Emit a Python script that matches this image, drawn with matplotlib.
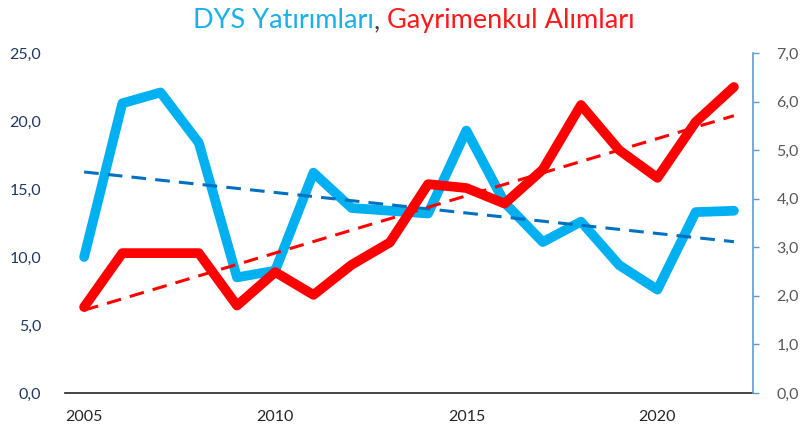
import matplotlib
matplotlib.use("Agg")
import matplotlib.pyplot as plt
import numpy as np
from matplotlib.ticker import FuncFormatter

years = list(range(2005, 2023))
dys = [10.0, 21.3, 22.1, 18.4, 8.5, 9.0, 16.2, 13.6, 13.4, 13.2, 19.3, 14.0,
       11.1, 12.6, 9.4, 7.6, 13.3, 13.4]
gayrimenkul = [1.77, 2.88, 2.88, 2.88, 1.8, 2.49, 2.02, 2.64, 3.1, 4.3, 4.22,
               3.9, 4.6, 5.93, 5.0, 4.43, 5.58, 6.3]
left_ticks = [0, 5, 10, 15, 20, 25]
right_ticks = [0, 1, 2, 3, 4, 5, 6, 7]
x_ticks = [2005, 2010, 2015, 2020]
title_parts = [("DYS Yatırımları", "#1AB0EA"), (", ", "#404040"),
               ("Gayrimenkul Alımları", "#FF1A1A")]

plt.rcParams['font.family'] = ['Lato', 'DejaVu Sans']

W, H = 800, 436
fig = plt.figure(figsize=(W / 100, H / 100), dpi=100)
ax = fig.add_axes([65 / W, 1 - 393 / H, (753 - 65) / W, (393 - 53) / H])
ax2 = ax.twinx()

blue = "#00B0F0"
red = "#FF0000"

ax.plot(years, dys, color=blue, lw=7, solid_joinstyle='round',
        solid_capstyle='round', zorder=3)
pb = np.polyfit(years, dys, 1)
ax.plot([years[0], years[-1]], np.polyval(pb, [years[0], years[-1]]),
        color="#0070C0", lw=2.2, dashes=(4.8, 3), zorder=4)

ax2.plot(years, gayrimenkul, color=red, lw=7, solid_joinstyle='round',
         solid_capstyle='round', zorder=3)
pr = np.polyfit(years, gayrimenkul, 1)
ax2.plot([years[0], years[-1]], np.polyval(pr, [years[0], years[-1]]),
         color=red, lw=2.2, dashes=(4.8, 3), zorder=4)

fmt = FuncFormatter(lambda v, p: f"{v:.1f}".replace('.', ','))

ax.set_xlim(2004.5, 2022.5)
ax.set_ylim(0, 25)
ax.set_yticks(left_ticks)
ax.yaxis.set_major_formatter(fmt)
ax.set_xticks(x_ticks)
ax.set_xticklabels([str(x) for x in x_ticks])
ax.tick_params(axis='y', length=0, pad=17, labelsize=11.5, labelcolor="#1F3864")
ax.tick_params(axis='x', length=0, pad=12, labelsize=11.5, labelcolor="#262626")

ax2.set_ylim(0, 7)
ax2.set_yticks(right_ticks)
ax2.yaxis.set_major_formatter(fmt)
ax2.tick_params(axis='y', length=4, width=1, color="#5B9BD5", pad=13,
                labelsize=11.5, labelcolor="#595959")

for a in (ax, ax2):
    for s in ('top', 'left', 'right'):
        a.spines[s].set_visible(False)
ax2.spines['bottom'].set_visible(False)
ax2.spines['right'].set_visible(True)
ax2.spines['right'].set_color("#5B9BD5")
ax2.spines['right'].set_linewidth(1.2)
ax.spines['bottom'].set_color("#262626")
ax.spines['bottom'].set_linewidth(1.2)

# Multi-coloured title
fig.canvas.draw()
renderer = fig.canvas.get_renderer()
texts = []
widths = []
for s, c in title_parts:
    t = fig.text(0, 0, s, color=c, fontsize=19.5, va='baseline', ha='left')
    bb = t.get_window_extent(renderer)
    texts.append(t)
    widths.append(bb.width)
total = sum(widths)
x0 = 414 - total / 2
ybase = 1 - 28 / H
for t, w in zip(texts, widths):
    t.set_position((x0 / W, ybase))
    x0 += w

fig.savefig("out.png", dpi=100)
